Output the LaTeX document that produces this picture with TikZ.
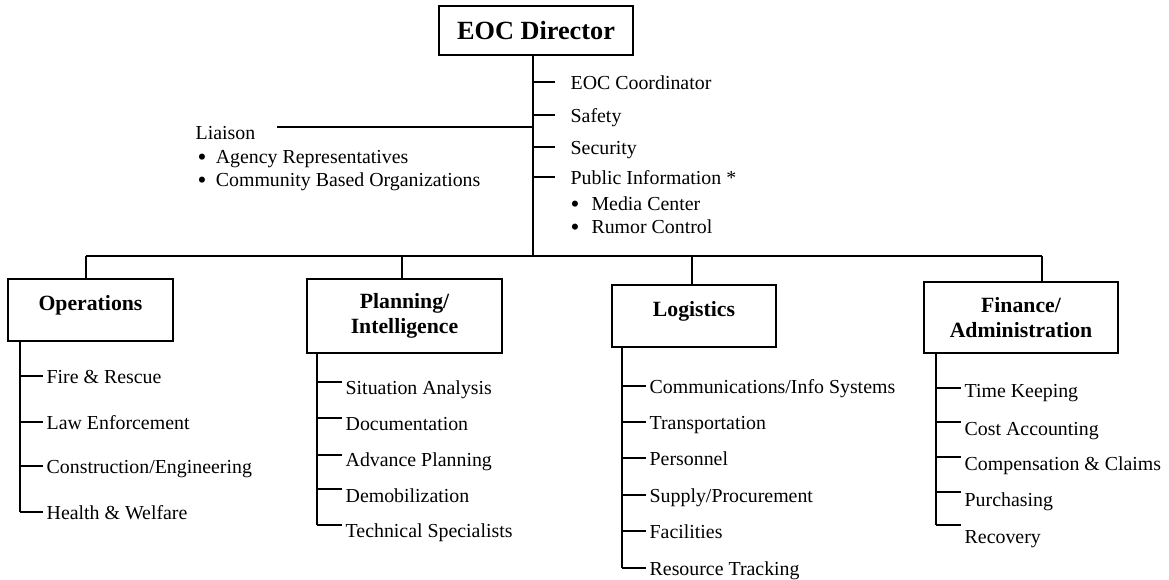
\documentclass[tikz,border=0pt]{standalone}
\usepackage{fontspec}
\setmainfont{Liberation Serif}

\newcommand\bigdot{\raisebox{-1.4pt}{\fontsize{19}{19}\selectfont\textbullet}}

\begin{document}
\begin{tikzpicture}[
						x=0.75pt, y=-0.75pt,
						line width=1.5pt,
						chief/.style = {draw, rectangle, minimum width=145.5pt, minimum height=37pt, inner sep=0pt, font=\fontsize{19.7}{22}\selectfont\bfseries},
						unit/.style = {draw, rectangle, inner sep=0pt, align=center, font=\fontsize{16.3}{18.75}\selectfont\bfseries},
						oneline/.style = {unit, text height=11pt, text depth=10pt},
						item/.style = {anchor=west, inner xsep=2pt, inner ysep=0pt, text height=15pt, text depth=3.7pt, font=\fontsize{14.9}{17}\selectfont},
						staff/.style = {item, inner xsep=11pt},
					]

\useasboundingbox (0,0) rectangle (1169,579);

% top of the chart
\node[chief] (dir) at (536,30.5) {EOC Director};

\coordinate (trunk) at (533,256);
\coordinate (bus-w) at (86,256);
\coordinate (bus-e) at (1042,256);
\coordinate (drop-p) at (402,256);
\coordinate (drop-l) at (692,256);
\coordinate (lia-end) at (277,127);

\draw (trunk |- dir.south) -- (trunk);
\draw (bus-w) -- (bus-e);
\draw (lia-end) -- (lia-end -| trunk);

\foreach \n/\t/\y in {coord/{EOC Coordinator}/82, safety/Safety/115, security/Security/147, pio/{Public Information *}/177}{
	\node[staff] (\n) at (555,\y) {\t};
	\draw (trunk |- \n.west) -- (\n.west);
}
\node[item] (media) at (567,203) {\bigdot\hspace{9pt}Media Center};
\node[item] (rumor) at (567,226) {\bigdot\hspace{9pt}Rumor Control};

\node[item] (liaison) at (192,132) {Liaison};
\node[item] (agency) at (194,156) {\bigdot\hspace{7pt}Agency Representatives};
\node[item] (cbo) at (194,179) {\bigdot\hspace{7pt}Community Based Organizations};

% sections
\node[oneline, minimum width=123.75pt, minimum height=46.5pt] (ops) at (90.5,310) {Operations};
\node[unit, minimum width=146.25pt, minimum height=55.5pt] (plan) at (404.5,316) {Planning/\\Intelligence};
\node[oneline, minimum width=123pt, minimum height=46.5pt] (log) at (694,316) {Logistics};
\node[unit, minimum width=145.5pt, minimum height=53.25pt] (fin) at (1021,317.5) {Finance/\\Administration};

\draw (bus-w) -- (bus-w |- ops.north);
\draw (drop-p) -- (drop-p |- plan.north);
\draw (drop-l) -- (drop-l |- log.north);
\draw (bus-e) -- (bus-e |- fin.north);

% operations
\coordinate (ops-sp) at (20,0);
\foreach \n/\t/\y in {fire/{Fire \& Rescue}/376, law/{Law Enforcement}/422, constr/{Construction/Engineering}/466, health/{Health \& Welfare}/512}{
	\node[item] (\n) at (43,\y) {\t};
	\draw (ops-sp |- \n.west) -- (\n.west);
}
\draw (ops-sp |- ops.south) -- (ops-sp |- health.west);

% planning
\coordinate (plan-sp) at (317,0);
\foreach \n/\t/\y/\k in {sit/{Situation Analysis}/387/382, doc/Documentation/423/418, adv/{Advance Planning}/459/455, demob/Demobilization/495/489, tech/{Technical Specialists}/530/525}{
	\node[item] (\n) at (342,\y) {\t};
	\coordinate (\n-k) at (342,\k);
	\draw (plan-sp |- \n-k) -- (\n-k);
}
\draw (plan-sp |- plan.south) -- (plan-sp |- tech-k);

% logistics
\coordinate (log-sp) at (622,0);
\foreach \n/\t/\y in {comm/{Communications/Info Systems}/386, trans/Transportation/422, pers/Personnel/458, supply/{Supply/Procurement}/495, fac/Facilities/531, res/{Resource Tracking}/568}{
	\node[item] (\n) at (646,\y) {\t};
	\draw (log-sp |- \n.west) -- (\n.west);
}
\draw (log-sp |- log.south) -- (log-sp |- res.west);

% finance
\coordinate (fin-sp) at (936,0);
\foreach \n/\t/\y/\k in {time/{Time Keeping}/390/388, cost/{Cost Accounting}/428/422, comp/{Compensation \& Claims}/463/457, purch/Purchasing/499/492, recov/Recovery/536/525}{
	\node[item] (\n) at (961,\y) {\t};
	\coordinate (\n-k) at (961,\k);
	\draw (fin-sp |- \n-k) -- (\n-k);
}
\draw (fin-sp |- fin.south) -- (fin-sp |- recov-k);

\end{tikzpicture}
\end{document}
